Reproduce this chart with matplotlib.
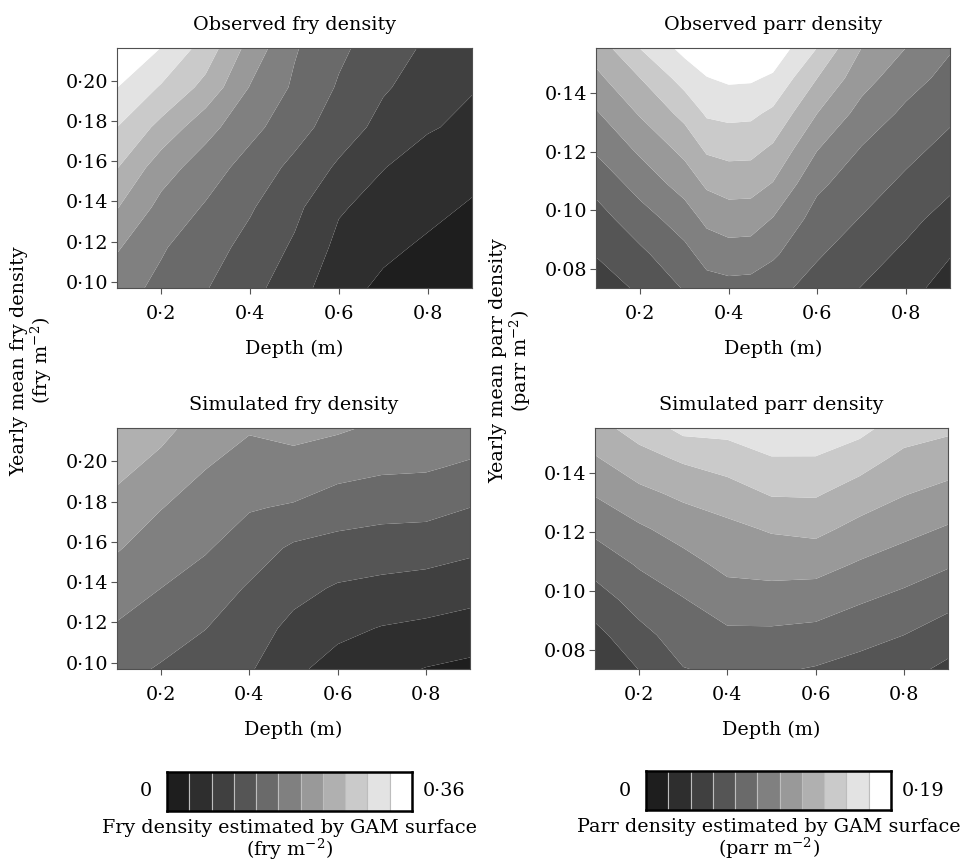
import numpy as np
import matplotlib.pyplot as plt
from matplotlib.ticker import FuncFormatter

plt.rcParams['font.family'] = 'DejaVu Serif'
plt.rcParams['mathtext.fontset'] = 'dejavuserif'
FS = 13.8

# grey bands, darkest (0) to white (10)
GREYS = ['#1e1e1e', '#2e2e2e', '#404040', '#555555', '#6a6a6a', '#808080',
         '#999999', '#b0b0b0', '#cacaca', '#e3e3e3', '#ffffff']

depth = [0.1, 0.2, 0.3, 0.4, 0.5, 0.6, 0.7, 0.8, 0.9]
depth_parr_obs = [0.1, 0.2, 0.3, 0.35, 0.4, 0.45, 0.5, 0.6, 0.7, 0.8, 0.9]
fry_mean = [0.0965, 0.117, 0.137, 0.157, 0.177, 0.197, 0.217]
parr_mean = [0.073, 0.085, 0.097, 0.109, 0.121, 0.133, 0.145, 0.157]

FRY_MAX = 0.36
PARR_MAX = 0.19

# surfaces in colour-band units (0 = bottom of darkest band,
# 11 = top of white band); one row per mean-density value, bottom row first
fry_obs_bands = [
    [5.4, 4.75, 4.05, 3.3, 2.45, 1.35, 0.8, 0.5, 0.3],
    [6.1, 5.1, 4.4, 3.7, 2.85, 1.75, 1.2, 0.85, 0.6],
    [7.05, 5.7, 4.9, 4.1, 3.25, 2.1, 1.65, 1.25, 0.9],
    [8.05, 6.45, 5.5, 4.6, 3.75, 2.85, 2.03, 1.6, 1.3],
    [9.0, 7.7, 6.35, 5.3, 4.4, 3.5, 2.7, 2.08, 1.8],
    [10.02, 8.9, 7.7, 5.95, 4.85, 3.9, 3.1, 2.6, 2.05],
    [10.8, 10.0, 8.6, 6.65, 5.1, 4.2, 3.5, 2.85, 2.35],
]
fry_sim_bands = [
    [4.3, 3.9, 3.5, 3.1, 2.2, 1.6, 1.3, 0.95, 0.75],
    [4.9, 4.45, 4.02, 3.45, 2.75, 2.25, 1.95, 1.8, 1.6],
    [5.47, 5.0, 4.55, 3.9, 3.3, 2.9, 2.75, 2.6, 2.4],
    [6.08, 5.5, 5.1, 4.5, 3.85, 3.65, 3.5, 3.45, 3.2],
    [6.67, 6.03, 5.55, 5.07, 4.9, 4.5, 4.35, 4.3, 4.0],
    [7.27, 6.7, 6.03, 5.6, 5.65, 5.35, 5.15, 5.1, 4.85],
    [7.86, 7.3, 6.55, 6.1, 6.3, 6.15, 5.85, 5.8, 5.6],
]
parr_obs_bands = [
    [2.4, 3.15, 4.05, 4.55, 4.65, 4.6, 4.3, 3.6, 2.95, 2.3, 1.6],
    [3.05, 3.8, 4.7, 5.37, 5.57, 5.53, 5.15, 4.1, 3.45, 2.8, 2.05],
    [3.6, 4.55, 5.5, 6.23, 6.49, 6.45, 5.95, 4.6, 3.95, 3.3, 2.6],
    [4.3, 5.4, 6.4, 7.16, 7.41, 7.39, 6.95, 5.2, 4.45, 3.8, 3.2],
    [5.15, 6.2, 7.3, 8.17, 8.33, 8.3, 7.85, 6.05, 4.95, 4.3, 3.7],
    [5.9, 7.1, 8.3, 9.13, 9.25, 9.2, 8.8, 7.0, 5.65, 4.8, 4.2],
    [6.75, 8.0, 9.4, 9.96, 10.17, 10.13, 9.85, 8.0, 6.4, 5.4, 4.7],
    [7.6, 9.2, 10.45, 10.8, 10.95, 10.95, 10.8, 9.15, 7.1, 6.1, 5.15],
]
parr_sim_bands = [
    [2.2, 3.0, 3.95, 4.15, 4.1, 3.9, 3.6, 3.3, 2.75],
    [2.7, 3.7, 4.45, 4.8, 4.8, 4.7, 4.35, 4.0, 3.5],
    [3.54, 4.4, 4.95, 5.55, 5.6, 5.5, 5.1, 4.75, 4.3],
    [4.38, 5.1, 5.65, 6.25, 6.35, 6.35, 5.9, 5.5, 5.1],
    [5.23, 5.85, 6.4, 6.75, 7.1, 7.25, 6.7, 6.3, 5.9],
    [6.07, 6.75, 7.2, 7.55, 8.08, 8.1, 7.55, 7.05, 6.7],
    [6.92, 7.65, 8.15, 8.5, 8.95, 8.95, 8.45, 7.75, 7.5],
    [7.77, 8.55, 9.5, 9.45, 9.85, 9.8, 9.45, 8.6, 8.3],
]

fry_obs = np.array(fry_obs_bands) * FRY_MAX / 11
fry_sim = np.array(fry_sim_bands) * FRY_MAX / 11
parr_obs = np.array(parr_obs_bands) * PARR_MAX / 11
parr_sim = np.array(parr_sim_bands) * PARR_MAX / 11


def dot_fmt(nd):
    return FuncFormatter(lambda v, pos: f"{v:.{nd}f}".replace('.', '\u00b7'))


def draw_panel(ax, xs, z, ymean, vmax, title, yticks, ylim):
    levels = np.linspace(0, vmax, 12)
    ax.contourf(xs, ymean, z, levels=levels, colors=GREYS, antialiased=True)
    ax.set_xlim(0.1, 0.9)
    ax.set_ylim(*ylim)
    ax.set_xticks([0.2, 0.4, 0.6, 0.8])
    ax.set_yticks(yticks)
    ax.xaxis.set_major_formatter(dot_fmt(1))
    ax.yaxis.set_major_formatter(dot_fmt(2))
    ax.tick_params(length=4, width=0.8, color='#555555', labelsize=FS)
    ax.tick_params(axis='x', pad=8)
    ax.tick_params(axis='y', pad=2.5)
    for s in ax.spines.values():
        s.set_color('#505050')
        s.set_linewidth(0.8)
    ax.set_title(title, fontsize=FS, pad=13)
    ax.set_xlabel('Depth (m)', fontsize=FS, labelpad=12)


def draw_key(ax, vmax_label, caption):
    ax.bar(np.arange(11), np.ones(11), width=1, align='edge', color=GREYS,
           edgecolor='#bdbdbd', linewidth=0.8)
    ax.set_xlim(0, 11)
    ax.set_ylim(0, 1)
    ax.set_xticks([])
    ax.set_yticks([])
    for s in ax.spines.values():
        s.set_color('black')
        s.set_linewidth(1.8)
        s.set_zorder(5)
    ax.text(-0.06, 0.5, '0', transform=ax.transAxes, ha='right', va='center', fontsize=FS)
    ax.text(1.045, 0.5, vmax_label, transform=ax.transAxes, ha='left', va='center', fontsize=FS)
    ax.text(0.5, -0.2, caption, transform=ax.transAxes, ha='center', va='top',
            fontsize=FS, linespacing=1.0)


fig = plt.figure(figsize=(9.61, 8.67), dpi=100, facecolor='white')

W, H = 961, 867


def px_axes(l, t, r, b):
    return fig.add_axes([l / W, 1 - b / H, (r - l) / W, (b - t) / H])


ax1 = px_axes(117, 48, 472, 288)
ax2 = px_axes(596, 48, 950, 288)
ax3 = px_axes(117, 428, 470, 669)
ax4 = px_axes(595, 428, 948, 669)

draw_panel(ax1, depth, fry_obs, fry_mean, FRY_MAX, 'Observed fry density',
           [0.10, 0.12, 0.14, 0.16, 0.18, 0.20], (0.0968, 0.2166))
draw_panel(ax2, depth_parr_obs, parr_obs, parr_mean, PARR_MAX, 'Observed parr density',
           [0.08, 0.10, 0.12, 0.14], (0.0735, 0.1553))
draw_panel(ax3, depth, fry_sim, fry_mean, FRY_MAX, 'Simulated fry density',
           [0.10, 0.12, 0.14, 0.16, 0.18, 0.20], (0.0968, 0.2166))
draw_panel(ax4, depth, parr_sim, parr_mean, PARR_MAX, 'Simulated parr density',
           [0.08, 0.10, 0.12, 0.14], (0.0735, 0.1553))

fig.text(32 / W, 1 - 361 / H, 'Yearly mean fry density\n(fry m$^{-2}$)', rotation=90,
         ha='center', va='center', multialignment='center', fontsize=FS, linespacing=1.0)
fig.text(511 / W, 1 - 361 / H, 'Yearly mean parr density\n(parr m$^{-2}$)', rotation=90,
         ha='center', va='center', multialignment='center', fontsize=FS, linespacing=1.0)

key1 = px_axes(167, 772, 412, 811)
key2 = px_axes(646, 771, 891, 810)
draw_key(key1, '0\u00b736', 'Fry density estimated by GAM surface\n(fry m$^{-2}$)')
draw_key(key2, '0\u00b719', 'Parr density estimated by GAM surface\n(parr m$^{-2}$)')

fig.savefig('out.png', dpi=100, facecolor='white')
